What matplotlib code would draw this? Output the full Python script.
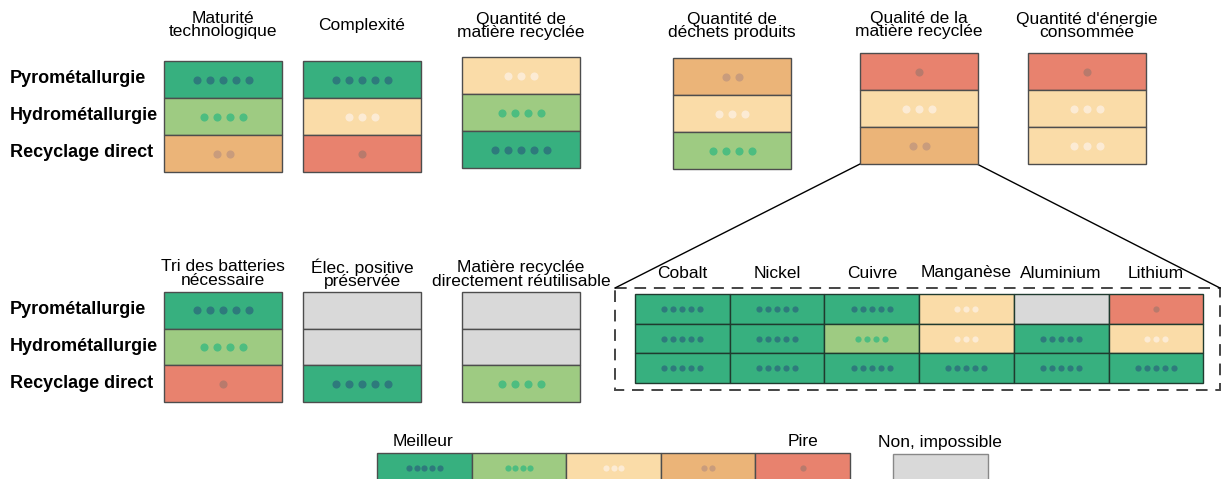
import matplotlib.pyplot as plt
from matplotlib.patches import Rectangle

plt.rcParams['font.family'] = ['Liberation Sans', 'DejaVu Sans']

# scores: 5 = meilleur ... 1 = pire, 0 = non, impossible
procedes = ["Pyrométallurgie", "Hydrométallurgie", "Recyclage direct"]

crit_haut = ["Maturité\ntechnologique", "Complexité", "Quantité de\nmatière recyclée",
             "Quantité de\ndéchets produits", "Qualité de la\nmatière recyclée",
             "Quantité d'énergie\nconsommée"]
scores_haut = [[5, 4, 2], [5, 3, 1], [3, 4, 5], [2, 3, 4], [1, 3, 2], [1, 3, 3]]

crit_bas = ["Tri des batteries\nnécessaire", "Élec. positive\npréservée",
            "Matière recyclée\ndirectement réutilisable"]
scores_bas = [[5, 4, 1], [0, 0, 5], [0, 0, 4]]

metaux = ["Cobalt", "Nickel", "Cuivre", "Manganèse", "Aluminium", "Lithium"]
scores_metaux = [[5, 5, 5], [5, 5, 5], [5, 4, 5], [3, 3, 5], [0, 5, 5], [1, 3, 5]]

legende = [5, 4, 3, 2, 1]

fill = {5: '#37b07f', 4: '#9ecb82', 3: '#fadca8', 2: '#ebb478', 1: '#e8826e', 0: '#d9d9d9'}
dotc = {5: '#2e7a7c', 4: '#4dbd80', 3: '#fcebd4', 2: '#c99c7c', 1: '#b87a6c'}

fig = plt.figure(figsize=(12.22, 4.79), dpi=100)
ax = fig.add_axes([0, 0, 1, 1])
ax.set_xlim(0, 1222)
ax.set_ylim(479, 0)
ax.axis('off')


def cell(x, y, w, h, s, ec='#4d4d4d', gap=13, ds=34):
    ax.add_patch(Rectangle((x, y), w, h, fc=fill[s], ec=ec, lw=1, zorder=2))
    if s > 0:
        xs = [x + w / 2 + (i - (s - 1) / 2) * gap for i in range(s)]
        ax.scatter(xs, [y + h / 2] * s, s=ds, c=dotc[s], lw=0, zorder=3)


def panel(x, y, title, sc, ty, w=118, h=37):
    for r, s in enumerate(sc):
        cell(x, y + r * h, w, h, s)
    ax.text(x + w / 2, ty, title, ha='center', va='center', fontsize=12.5,
            linespacing=0.85)


# rangée du haut
px_haut = [164, 303, 462, 673, 860, 1028]
py_haut = [61, 61, 57, 58, 53, 53]
ty_haut = [25, 25, 26, 26, 25, 26]
for x, y, t, s, ty in zip(px_haut, py_haut, crit_haut, scores_haut, ty_haut):
    panel(x, y, t, s, ty)

for r, p in enumerate(procedes):
    ax.text(10, 78.5 + r * 37, p, ha='left', va='center', fontsize=13, fontweight='bold')
    ax.text(10, 310 + r * 36.5, p, ha='left', va='center', fontsize=13, fontweight='bold')

# rangée du bas
px_bas = [164, 303, 462]
ty_bas = [273.5, 273.5, 274.5]
for x, t, s, ty in zip(px_bas, crit_bas, scores_bas, ty_bas):
    panel(x, 292, t, s, ty, h=36.7)

# zoom sur la qualité par métal
zx, zy, zw, zh = 635, 294, 94.7, 29.7
for c, (m, sc) in enumerate(zip(metaux, scores_metaux)):
    for r, s in enumerate(sc):
        cell(zx + c * zw, zy + r * zh, zw, zh, s, ec='#1f3a2e', gap=9, ds=20)
    ax.text(zx + c * zw + zw / 2, 273, m, ha='center', va='center', fontsize=12.5)

ax.add_patch(Rectangle((615, 288), 605, 102, fill=False, ec='#444444', lw=1.4,
                       ls=(0, (6, 4)), zorder=1))
ax.plot([860, 615], [164, 288], color='black', lw=1, zorder=1)
ax.plot([977, 1220], [164, 288], color='black', lw=1, zorder=1)

# légende
lx, lw_ = 377, 94.6
for i, s in enumerate(legende):
    cell(lx + i * lw_, 453, lw_, 30, s, gap=7.6, ds=20)
ax.text(lx + 0.49 * lw_, 441, "Meilleur", ha='center', va='center', fontsize=12.5)
ax.text(lx + 4.5 * lw_, 441, "Pire", ha='center', va='center', fontsize=12.5)
ax.add_patch(Rectangle((893, 454), 95, 30, fc=fill[0], ec='#888888', lw=1, zorder=2))
ax.text(940, 443, "Non, impossible", ha='center', va='center', fontsize=12.5)

fig.savefig("out.png", dpi=100)
